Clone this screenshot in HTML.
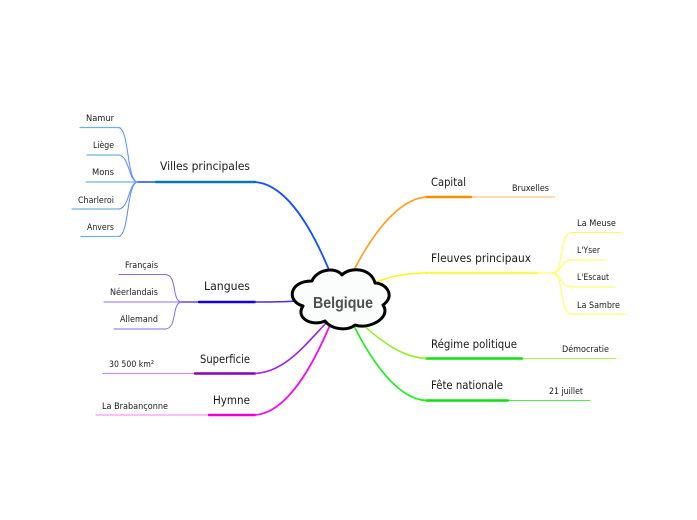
<!DOCTYPE html>
<html><head><meta charset="utf-8"><style>
html,body{margin:0;padding:0;background:#fff}
svg{display:block}
text{font-family:"DejaVu Sans",sans-serif;fill:#1a1a1a}
.m{font-size:11.5px}
.s{font-size:9px}
path{fill:none;stroke-linecap:round}
</style></head><body>
<svg width="697" height="520" viewBox="0 0 697 520" xmlns="http://www.w3.org/2000/svg">
<!-- Villes -->
<g stroke="#5a8cff" stroke-width="1">
<path d="M138 182C126 182 130 127.5 118 127.5"/>
<path d="M138 182C128 182 130 155 118 155"/>
<path d="M138 182C128 182 130 209 118 209"/>
<path d="M138 182C126 182 130 236.5 118 236.5"/>
</g>
<g stroke="#6cb4e0" stroke-width="1.2">
<path d="M80 127.5H120"/><path d="M87 155H120"/><path d="M86 182H138"/><path d="M72 209H120"/><path d="M81 236.5H120"/>
</g>
<path d="M138 182H156" stroke="#1050ff" stroke-width="1.4"/>
<path d="M156 182H255" stroke="#0a78b8" stroke-width="2.4"/>
<path d="M255 182C282 184 307 217 329 270" stroke="#1050ff" stroke-width="1.8"/>
<!-- Langues -->
<g stroke="#7a6cff" stroke-width="1">
<path d="M104 302H182" stroke="#9a90ff" stroke-width="1.3"/><path d="M119 274.500H165"/><path d="M114 329H165"/>
<path d="M182 302C171 302 178 274.500 165 274.500"/>
<path d="M182 302C171 302 178 329 165 329"/>
</g>
<path d="M182 302H199" stroke="#3a20f0" stroke-width="1.2"/>
<path d="M199 302H255" stroke="#1800d8" stroke-width="2.4"/>
<path d="M255 302C270 302 285 302 295 301" stroke="#4a30e8" stroke-width="1.4"/>
<!-- Superficie -->
<path d="M103 373.500H195" stroke="#c490f5" stroke-width="1.3"/>
<path d="M195 373.500H255" stroke="#8a00b8" stroke-width="2.4"/>
<path d="M255 373.500C285 372 305 345 327 322" stroke="#9a20f0" stroke-width="1.6"/>
<!-- Hymne -->
<path d="M96 415H209" stroke="#f080f0" stroke-width="1.1"/>
<path d="M209 415H255" stroke="#f000d8" stroke-width="2.4"/>
<path d="M255 415C285 413 310 372 330 325" stroke="#f010f0" stroke-width="1.8"/>
<!-- Capital -->
<path d="M471 197H555" stroke="#ffb860" stroke-width="1"/>
<path d="M426 197H471" stroke="#f59000" stroke-width="2.4"/>
<path d="M354 270C372 235 398 199 426 197" stroke="#ffa020" stroke-width="1.7"/>
<!-- Fleuves -->
<g stroke="#ffff50" stroke-width="1">
<path d="M537 273H552"/>
<path d="M552 273C565 273 558 232.500 572 232.500H622"/>
<path d="M552 273C562 273 560 260 572 260H606"/>
<path d="M552 273C562 273 560 287 572 287H615"/>
<path d="M552 273C565 273 558 314 572 314H626"/>
</g>
<path d="M426 273H537" stroke="#f8f860" stroke-width="2.4"/>
<path d="M376 282C392 276 408 273 426 273" stroke="#f8f820" stroke-width="1.6"/>
<!-- Regime -->
<path d="M522 358.500H616" stroke="#a8f850" stroke-width="1"/>
<path d="M426 358.500H522" stroke="#10e010" stroke-width="2.4"/>
<path d="M362 324C382 342 402 357 426 358.500" stroke="#90f020" stroke-width="1.5"/>
<!-- Fete -->
<path d="M508 400.500H590" stroke="#50f040" stroke-width="1"/>
<path d="M426 400.500H508" stroke="#10e010" stroke-width="2.4"/>
<path d="M354 326C372 362 398 399 426 400.500" stroke="#20f020" stroke-width="1.7"/>
<!-- Cloud -->
<path d="M312 281C316 270 335 266 342 275C349 267 371 267 375 283C386 283 396 296 383 305C392 318 368 330 355 325C348 331 332 330 325 321C312 327 295 318 303 306C287 302 288 281 312 281Z" style="fill:#fbfdfd;stroke:#000;stroke-width:3;stroke-linejoin:round"/>
<text x="313" y="308" textLength="60" lengthAdjust="spacingAndGlyphs" style="font-family:'Liberation Sans',sans-serif;font-weight:700;font-size:15.5px;fill:#4a4f52">Belgique</text>
<!-- Main labels -->
<text class="m" x="160" y="170" textLength="90" lengthAdjust="spacingAndGlyphs">Villes principales</text>
<text class="m" x="204" y="290" textLength="46" lengthAdjust="spacingAndGlyphs">Langues</text>
<text class="m" x="200" y="363" textLength="50" lengthAdjust="spacingAndGlyphs">Superficie</text>
<text class="m" x="213" y="404" textLength="37" lengthAdjust="spacingAndGlyphs">Hymne</text>
<text class="m" x="431" y="186" textLength="35" lengthAdjust="spacingAndGlyphs">Capital</text>
<text class="m" x="431" y="262" textLength="100" lengthAdjust="spacingAndGlyphs">Fleuves principaux</text>
<text class="m" x="431" y="348" textLength="86" lengthAdjust="spacingAndGlyphs">Régime politique</text>
<text class="m" x="431" y="389" textLength="72" lengthAdjust="spacingAndGlyphs">Fête nationale</text>
<!-- Sub labels -->
<text class="s" x="86" y="121" textLength="28" lengthAdjust="spacingAndGlyphs">Namur</text>
<text class="s" x="93" y="148" textLength="21" lengthAdjust="spacingAndGlyphs">Liège</text>
<text class="s" x="92" y="175" textLength="22" lengthAdjust="spacingAndGlyphs">Mons</text>
<text class="s" x="78" y="203" textLength="36" lengthAdjust="spacingAndGlyphs">Charleroi</text>
<text class="s" x="87" y="230" textLength="27" lengthAdjust="spacingAndGlyphs">Anvers</text>
<text class="s" x="125" y="268" textLength="33" lengthAdjust="spacingAndGlyphs">Français</text>
<text class="s" x="110" y="295" textLength="48" lengthAdjust="spacingAndGlyphs">Néerlandais</text>
<text class="s" x="120" y="322" textLength="38" lengthAdjust="spacingAndGlyphs">Allemand</text>
<text class="s" x="109" y="367" textLength="45" lengthAdjust="spacingAndGlyphs">30 500 km²</text>
<text class="s" x="102" y="409" textLength="66" lengthAdjust="spacingAndGlyphs">La Brabançonne</text>
<text class="s" x="512" y="191" textLength="37" lengthAdjust="spacingAndGlyphs">Bruxelles</text>
<text class="s" x="577" y="226" textLength="39" lengthAdjust="spacingAndGlyphs">La Meuse</text>
<text class="s" x="577" y="253" textLength="23" lengthAdjust="spacingAndGlyphs">L'Yser</text>
<text class="s" x="577" y="280" textLength="32" lengthAdjust="spacingAndGlyphs">L'Escaut</text>
<text class="s" x="577" y="308" textLength="43" lengthAdjust="spacingAndGlyphs">La Sambre</text>
<text class="s" x="562" y="352" textLength="47" lengthAdjust="spacingAndGlyphs">Démocratie</text>
<text class="s" x="549" y="394" textLength="34" lengthAdjust="spacingAndGlyphs">21 juillet</text>
</svg>
</body></html>
